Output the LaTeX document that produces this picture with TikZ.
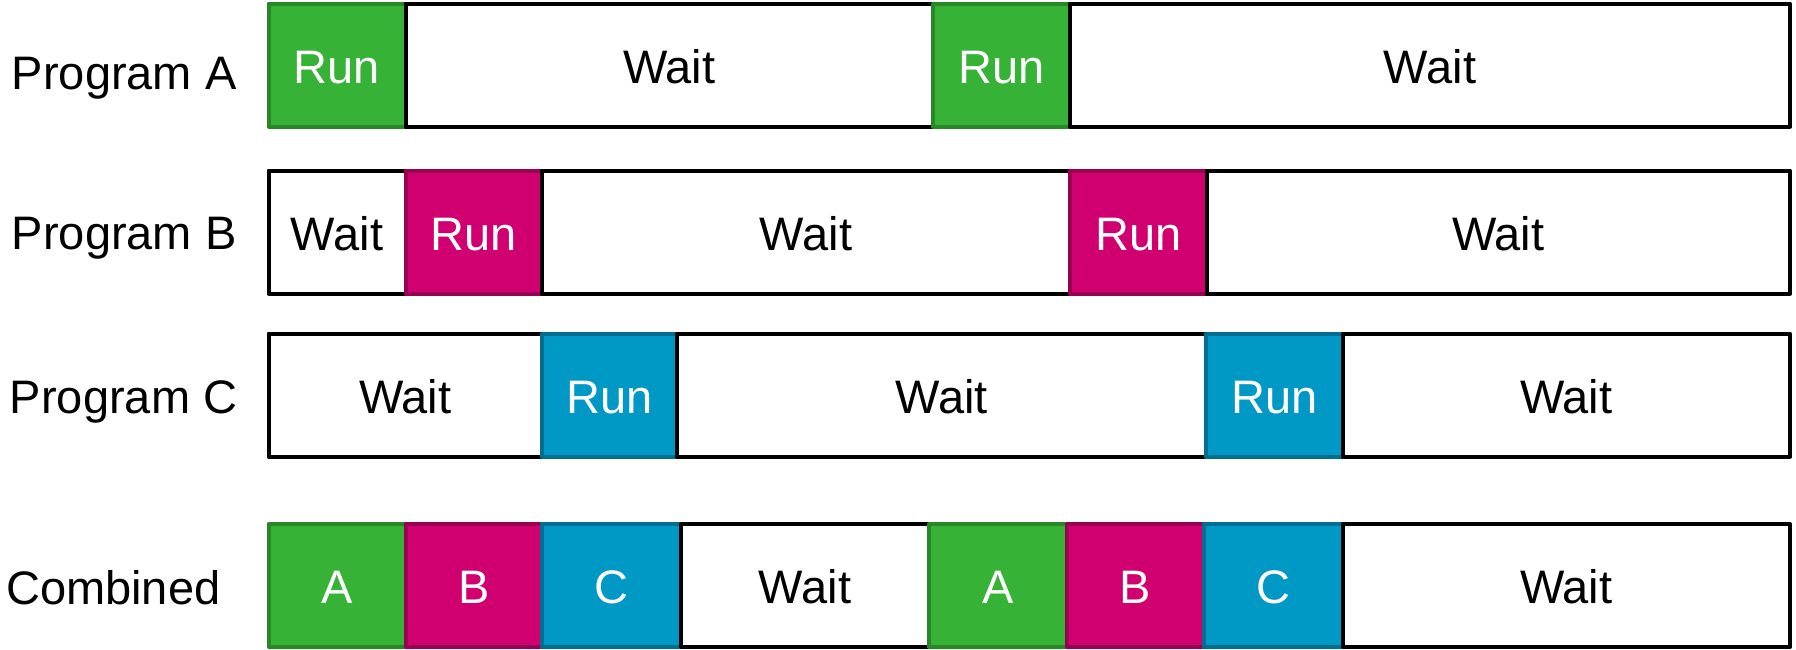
\documentclass[tikz,border=0pt]{standalone}
\usepackage{fontspec}
\setmainfont{Liberation Sans}

\definecolor{greenfill}{RGB}{54,178,54}
\definecolor{greenedge}{RGB}{40,136,40}
\definecolor{pinkfill}{RGB}{208,0,112}
\definecolor{pinkedge}{RGB}{152,0,82}
\definecolor{bluefill}{RGB}{0,152,196}
\definecolor{blueedge}{RGB}{0,110,142}

% one time slot: name, left x, right x, top y, bottom y, style, text
\newcommand\timeslot[7]{%
  \node[#6, minimum width={(#3-#2)*0.5pt}, minimum height={(#5-#4)*0.5pt}]
    (#1) at ({(#2+#3)/2},{(#4+#5)/2}) {#7};}

\begin{document}
\begin{tikzpicture}[x=0.5pt, y=-0.5pt,
  bigfont/.style={font=\fontsize{23.5pt}{28pt}\selectfont},
  slot/.style={rectangle, inner sep=0pt, outer sep=0pt, line width=2pt,
    line join=round, text height=18pt, text depth=0pt, bigfont},
  waitbox/.style={slot, draw=black, fill=white, text=black},
  runa/.style={slot, draw=greenedge, fill=greenfill, text=white},
  runb/.style={slot, draw=pinkedge, fill=pinkfill, text=white},
  runc/.style={slot, draw=blueedge, fill=bluefill, text=white},
  rowlabel/.style={anchor=base west, inner sep=0pt, bigfont}]

\useasboundingbox (0,0) rectangle (1796,649);

% row labels
\node[rowlabel] (labA) at (11.5,89.3) {Program A};
\node[rowlabel] (labB) at (11.5,249.3) {Program B};
\node[rowlabel] (labC) at (9.6,413.3) {Program C};
\node[rowlabel] (labD) at (5.7,604) {Combined};

% Program A
\timeslot{a1}{268.5}{405.5}{3.5}{126.5}{runa}{Run}
\timeslot{a2}{405.5}{933}{3.5}{126.5}{waitbox}{Wait}
\timeslot{a3}{933}{1070}{3.5}{126.5}{runa}{Run}
\timeslot{a4}{1070}{1790}{3.5}{126.5}{waitbox}{Wait}

% Program B
\timeslot{b1}{268.5}{405.5}{170.5}{293.5}{waitbox}{Wait}
\timeslot{b2}{405.5}{542}{170.5}{293.5}{runb}{Run}
\timeslot{b3}{542}{1070}{170.5}{293.5}{waitbox}{Wait}
\timeslot{b4}{1070}{1206.5}{170.5}{293.5}{runb}{Run}
\timeslot{b5}{1206.5}{1790}{170.5}{293.5}{waitbox}{Wait}

% Program C
\timeslot{c1}{268.5}{542}{333.5}{456.5}{waitbox}{Wait}
\timeslot{c2}{542}{677}{333.5}{456.5}{runc}{Run}
\timeslot{c3}{677}{1206}{333.5}{456.5}{waitbox}{Wait}
\timeslot{c4}{1206}{1342.5}{333.5}{456.5}{runc}{Run}
\timeslot{c5}{1342.5}{1790}{333.5}{456.5}{waitbox}{Wait}

% Combined
\timeslot{d1}{268.5}{405.5}{524}{647}{runa}{A}
\timeslot{d2}{405.5}{542}{524}{647}{runb}{B}
\timeslot{d3}{542}{681}{524}{647}{runc}{C}
\timeslot{d4}{681}{929}{524}{647}{waitbox}{Wait}
\timeslot{d5}{929}{1066.5}{524}{647}{runa}{A}
\timeslot{d6}{1066.5}{1203.5}{524}{647}{runb}{B}
\timeslot{d7}{1203.5}{1342.5}{524}{647}{runc}{C}
\timeslot{d8}{1342.5}{1790}{524}{647}{waitbox}{Wait}

\end{tikzpicture}
\end{document}
